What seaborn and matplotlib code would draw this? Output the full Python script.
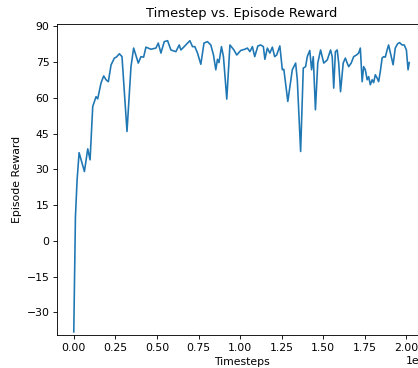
import numpy as np
import pandas as pd
import matplotlib
matplotlib.use("Agg")
import matplotlib.pyplot as plt
import seaborn as sns

# Timesteps (in thousands) and episode rewards
timesteps_k = [
    0, 10, 20, 32, 64, 84, 98, 114, 134, 144, 164, 180, 194, 208, 224, 244,
    256, 274, 290, 320, 344, 360, 388, 404, 420, 434, 464, 494, 508, 524,
    544, 564, 584, 614, 634, 644, 664, 684, 698, 714, 728, 744, 764, 783,
    804, 824, 840, 854, 864, 873, 888, 900, 920, 939, 963, 980, 1004, 1028,
    1044, 1059, 1074, 1088, 1107, 1124, 1140, 1149, 1164, 1179, 1194, 1208,
    1220, 1239, 1254, 1263, 1287, 1314, 1334, 1344, 1364, 1380, 1394, 1404,
    1419, 1430, 1440, 1453, 1467, 1484, 1503, 1524, 1544, 1554, 1563, 1573,
    1584, 1593, 1604, 1620, 1633, 1644, 1653, 1668, 1683, 1700, 1713, 1723,
    1734, 1743, 1753, 1764, 1773, 1783, 1794, 1803, 1813, 1824, 1833, 1843,
    1854, 1863, 1873, 1884, 1893, 1904, 1920, 1933, 1947, 1959, 1974, 1987,
    2000, 2010, 2017,
]
rewards = [
    -38.2, 10.1, 25.6, 37.0, 29.1, 38.6, 34.0, 56.4, 60.5, 59.6, 66.3, 69.2,
    67.6, 66.8, 73.8, 76.7, 77.1, 78.5, 77.3, 45.9, 73.1, 80.9, 74.6, 77.3,
    77.1, 81.3, 80.4, 80.9, 83.0, 78.8, 83.6, 84.0, 80.1, 79.4, 82.2, 80.1,
    81.5, 83.0, 84.0, 81.5, 81.5, 78.8, 74.1, 83.0, 83.6, 82.2, 78.0, 71.8,
    76.2, 74.8, 81.5, 77.3, 59.5, 82.2, 80.1, 78.0, 79.9, 80.4, 80.9, 79.4,
    81.5, 77.3, 81.8, 82.2, 81.5, 76.2, 80.9, 78.8, 81.3, 77.3, 78.0, 81.8,
    71.8, 72.0, 58.5, 71.8, 74.6, 67.6, 37.5, 72.5, 73.1, 77.3, 79.9, 71.8,
    77.3, 55.0, 74.6, 80.1, 74.6, 75.9, 80.1, 77.3, 64.1, 79.4, 80.1, 74.6,
    62.6, 74.6, 76.7, 74.6, 73.1, 74.6, 77.3, 78.0, 78.8, 80.9, 66.8, 73.1,
    71.8, 67.6, 68.9, 65.5, 67.6, 66.4, 69.7, 68.3, 66.8, 71.0, 76.7, 77.3,
    77.1, 80.1, 82.2, 78.8, 73.9, 80.9, 82.7, 83.2, 82.2, 82.2, 80.1, 71.8,
    74.8,
]
y_ticks = [-30, -15, 0, 15, 30, 45, 60, 75, 90]

df = pd.DataFrame({
    "Timesteps": np.array(timesteps_k) * 1000,
    "Episode Reward": rewards,
})

dpi = 78
fig = plt.figure(figsize=(419 / dpi, 368 / dpi), dpi=dpi)
ax = fig.add_axes([57 / 419, 33 / 368, 369 / 419, 311 / 368])

sns.lineplot(data=df, x="Timesteps", y="Episode Reward", ax=ax,
             estimator=None, color="#1f77b4", linewidth=1.5)

ax.set_title("Timestep vs. Episode Reward")
ax.set_xlabel("Timesteps")
ax.set_ylabel("Episode Reward")
ax.set_yticks(y_ticks)
ax.set_ylim(-39.5, 91)
ax.set_xticks(np.arange(0, 2.01e6, 0.25e6))

fig.savefig("out.png", dpi=dpi)
